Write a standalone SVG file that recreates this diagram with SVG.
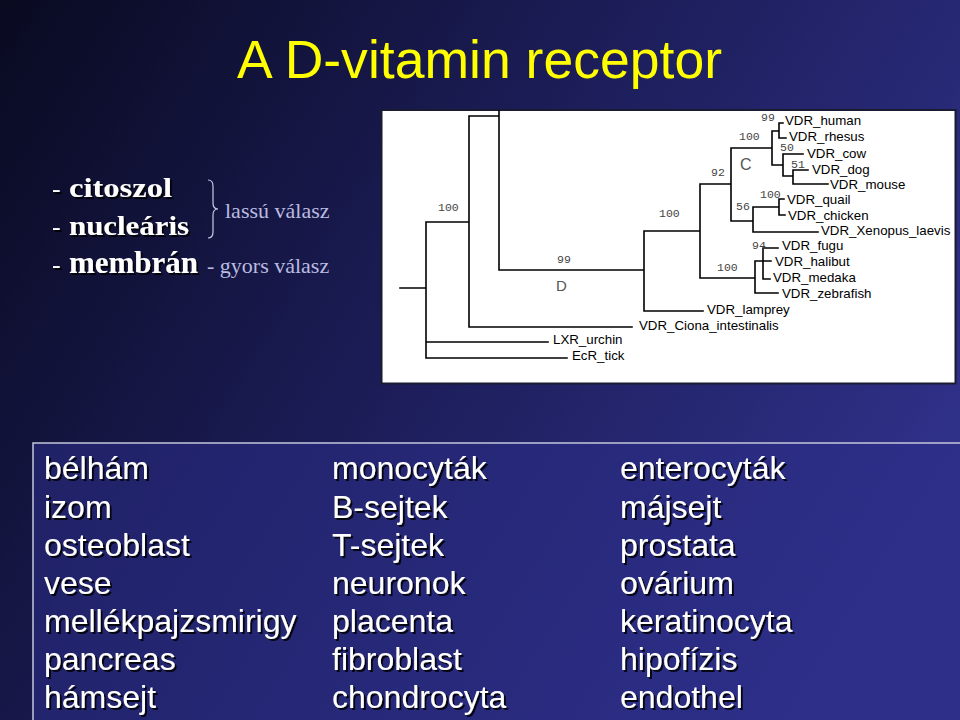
<svg xmlns="http://www.w3.org/2000/svg" width="960" height="720" viewBox="0 0 960 720">
<defs>
<linearGradient id="bg" gradientUnits="userSpaceOnUse" x1="0" y1="0" x2="900" y2="560">
<stop offset="0" stop-color="#090a20"/>
<stop offset="0.5" stop-color="#1c1d58"/>
<stop offset="1" stop-color="#30318a"/>
</linearGradient>
<filter id="sh" x="-5%" y="-20%" width="110%" height="140%">
<feDropShadow dx="2" dy="2" stdDeviation="0.6" flood-color="#000" flood-opacity="0.85"/>
</filter>
<style>
.title{font-family:"Liberation Sans",Arial,sans-serif;font-size:54px;fill:#ffff00}
.bold{font-family:"Liberation Serif","Times New Roman",serif;font-weight:bold;fill:#ffffff}
.dash{font-family:"Liberation Serif","Times New Roman",serif;font-size:26px;fill:#ffffff}
.note{font-family:"Liberation Serif","Times New Roman",serif;font-size:22px;fill:#b9bce0}
.tree{fill:none;stroke:#000;stroke-width:1.6;stroke-linecap:square}
.leaf{font-family:"Liberation Sans",Arial,sans-serif;font-size:13.3px;fill:#000}
.boot{font-family:"Liberation Mono","Courier New",monospace;font-size:11.5px;fill:#444}
.clade{font-family:"Liberation Sans",Arial,sans-serif;fill:#555}
.cell{font-family:"Liberation Sans",Arial,sans-serif;font-size:32px;fill:#ffffff}
</style>
</defs>
<rect x="0" y="0" width="960" height="720" fill="url(#bg)"/>

<g id="title">
<text class="title" x="237" y="78" textLength="485" lengthAdjust="spacingAndGlyphs">A D-vitamin receptor</text>
</g>

<g id="localization" filter="url(#sh)">
<text class="dash" x="52" y="197">-</text>
<text class="bold" x="69" y="197" font-size="27" textLength="103" lengthAdjust="spacingAndGlyphs">citoszol</text>
<text class="dash" x="52" y="235">-</text>
<text class="bold" x="69" y="235" font-size="27" textLength="120" lengthAdjust="spacingAndGlyphs">nucleáris</text>
<text class="dash" x="52" y="273">-</text>
<text class="bold" x="69" y="273" font-size="31" textLength="129" lengthAdjust="spacingAndGlyphs">membrán</text>
</g>
<g id="response">
<path d="M208,180 Q213,180 213,186 V203 Q213,209 218,209 Q213,209 213,215 V232 Q213,238 208,238" fill="none" stroke="#c8cae6" stroke-width="1.2"/>
<text class="note" x="225" y="218">lassú válasz</text>
<text class="note" x="207" y="273">- gyors válasz</text>
</g>

<g id="tree">
<rect x="381.5" y="110" width="574" height="273.5" fill="#ffffff" stroke="#1a1a30" stroke-width="2"/>
<g id="connectors">
<path class="tree" d="M400,288 H426 M426,222 V358 M426,222 H469 M426,342 H548 M426,358 H567 M469,116 V327 M469,116 H499 M469,327 H632 M499,111 V270 M499,270 H644 M644,231 V311 M644,311 H703 M644,231 H700 M700,184 V278 M700,184 H731 M700,278 H755 M731,148 V221 M731,148 H772 M731,221 H753 M772,131 V165 M772,131 H779 M779,123 V138 M779,123 H783 M779,138 H786 M772,165 H783 M783,154 V176 M783,154 H803 M783,176 H793 M793,170 V184 M793,170 H808 M793,184 H828 M753,207 V232 M753,207 H779 M779,199 V215 M779,199 H784 M779,215 H785 M753,232 H818 M755,261 V293 M755,261 H763 M763,248 V279 M763,248 H778 M763,261 H771 M763,279 H770 M755,293 H778"/>
</g>
<g id="leaves">
<text class="leaf" x="785" y="125">VDR_human</text>
<text class="leaf" x="789" y="141">VDR_rhesus</text>
<text class="leaf" x="807" y="158">VDR_cow</text>
<text class="leaf" x="812" y="174">VDR_dog</text>
<text class="leaf" x="830" y="189">VDR_mouse</text>
<text class="leaf" x="787" y="204">VDR_quail</text>
<text class="leaf" x="788" y="220">VDR_chicken</text>
<text class="leaf" x="821" y="235">VDR_Xenopus_laevis</text>
<text class="leaf" x="782" y="250">VDR_fugu</text>
<text class="leaf" x="775" y="266">VDR_halibut</text>
<text class="leaf" x="773" y="282">VDR_medaka</text>
<text class="leaf" x="782" y="298">VDR_zebrafish</text>
<text class="leaf" x="707" y="314">VDR_lamprey</text>
<text class="leaf" x="639" y="330">VDR_Ciona_intestinalis</text>
<text class="leaf" x="553" y="344">LXR_urchin</text>
<text class="leaf" x="572" y="360">EcR_tick</text>
</g>
<g id="bootstrap">
<text class="boot" x="438" y="211">100</text>
<text class="boot" x="557" y="263">99</text>
<text class="boot" x="659" y="217">100</text>
<text class="boot" x="711" y="176">92</text>
<text class="boot" x="739" y="140">100</text>
<text class="boot" x="761" y="121">99</text>
<text class="boot" x="780" y="151">50</text>
<text class="boot" x="791" y="168">51</text>
<text class="boot" x="760" y="198">100</text>
<text class="boot" x="736" y="210">56</text>
<text class="boot" x="752" y="249">94</text>
<text class="boot" x="717" y="271">100</text>
<text class="clade" x="556" y="291" font-size="15">D</text>
<text class="clade" x="740" y="170" font-size="16">C</text>
</g>
</g>

<g id="cells">
<rect x="33" y="443" width="940" height="300" fill="#2b2d88" fill-opacity="0.55" stroke="#c4c6dc" stroke-width="1.5"/>
<g filter="url(#sh)">
<text class="cell" x="44" y="479">bélhám</text>
<text class="cell" x="44" y="518">izom</text>
<text class="cell" x="44" y="556">osteoblast</text>
<text class="cell" x="44" y="594">vese</text>
<text class="cell" x="44" y="632">mellékpajzsmirigy</text>
<text class="cell" x="44" y="670">pancreas</text>
<text class="cell" x="44" y="708">hámsejt</text>
<text class="cell" x="332" y="479">monocyták</text>
<text class="cell" x="332" y="518">B-sejtek</text>
<text class="cell" x="332" y="556">T-sejtek</text>
<text class="cell" x="332" y="594">neuronok</text>
<text class="cell" x="332" y="632">placenta</text>
<text class="cell" x="332" y="670">fibroblast</text>
<text class="cell" x="332" y="708">chondrocyta</text>
<text class="cell" x="620" y="479">enterocyták</text>
<text class="cell" x="620" y="518">májsejt</text>
<text class="cell" x="620" y="556">prostata</text>
<text class="cell" x="620" y="594">ovárium</text>
<text class="cell" x="620" y="632">keratinocyta</text>
<text class="cell" x="620" y="670">hipofízis</text>
<text class="cell" x="620" y="708">endothel</text>
</g>
</g>
</svg>
